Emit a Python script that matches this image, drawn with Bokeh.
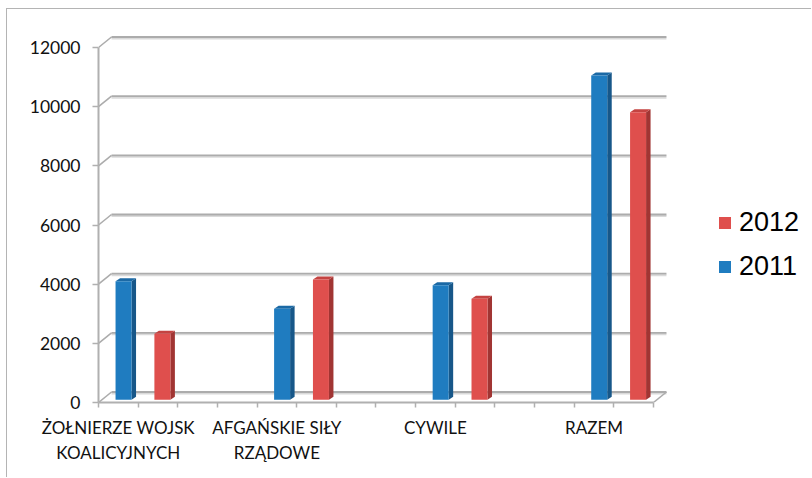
from bokeh.plotting import figure
from bokeh.models import Range1d, FixedTicker, ColumnDataSource, Legend, LegendItem
from bokeh.embed import file_html
from bokeh.resources import INLINE

# ---- data -------------------------------------------------------------
categories = ["ŻOŁNIERZE WOJSK\nKOALICYJNYCH", "AFGAŃSKIE SIŁY\nRZĄDOWE", "CYWILE", "RAZEM"]
values_2011 = [4010, 3080, 3870, 10960]
values_2012 = [2230, 4070, 3420, 9720]
y_ticks = [0, 2000, 4000, 6000, 8000, 10000, 12000]

# ---- geometry (pixels -> data units) -----------------------------------
SLOT_PX = 39.64                 # one minor-tick slot on the category axis
Y_PX_PER_UNIT = 355 / 12000     # vertical scale of the value axis
FRAME_W, FRAME_H = 707, 382
N_SLOTS = 14
SLOTS_PER_CAT = 4


def ux(px):
    return px / SLOT_PX


def uy(px):
    return px / Y_PX_PER_UNIT


BACK_DX, BACK_DY = ux(13), uy(10.5)     # depth offset of the back wall
BAR_DY = uy(2.7)                        # bars stand slightly behind the front edge
SIDE_DX, SIDE_DY = ux(4.5), uy(3)       # 3-D side/top face offset
BAR_W = ux(16)
OFFSETS = {"2011": 0.43, "2012": 1.41}

COLORS = {
    "2011": ("#1f7cc0", "#175789", "#1b69a5"),
    "2012": ("#df4f4d", "#a13533", "#c44341"),
}

p = figure(
    width=805, height=469,
    x_range=Range1d(0, ux(FRAME_W)),
    y_range=Range1d(0, uy(FRAME_H)),
    min_border_left=91, min_border_right=7, min_border_top=11, min_border_bottom=76,
    output_backend="svg", toolbar_location=None,
    margin=(8, 0, 0, 6),
    styles={"border-top": "1px solid #b4b4b4", "border-left": "1px solid #b4b4b4"},
)
p.outline_line_color = None
p.xgrid.visible = False
p.ygrid.visible = False

# ---- back wall gridlines, with shadow and depth connectors --------------
GRID = "#acacac"
SHADOW = "#dadada"
shadow_off = uy(1.5)
p.segment(x0=[BACK_DX] * len(y_ticks), x1=[N_SLOTS + BACK_DX] * len(y_ticks),
          y0=[v + BACK_DY - shadow_off for v in y_ticks],
          y1=[v + BACK_DY - shadow_off for v in y_ticks],
          line_color=SHADOW, line_width=2)
p.segment(x0=[BACK_DX] * len(y_ticks), x1=[N_SLOTS + BACK_DX] * len(y_ticks),
          y0=[v + BACK_DY for v in y_ticks], y1=[v + BACK_DY for v in y_ticks],
          line_color=GRID, line_width=1.8)
p.segment(x0=[0] * len(y_ticks), x1=[BACK_DX] * len(y_ticks),
          y0=y_ticks, y1=[v + BACK_DY for v in y_ticks],
          line_color=GRID, line_width=1.6)
p.segment(x0=[N_SLOTS], x1=[N_SLOTS + BACK_DX], y0=[0], y1=[BACK_DY],
          line_color=GRID, line_width=1.6)

# ---- 3-D columns ------------------------------------------------------
renderers = {}
for year, vals in (("2011", values_2011), ("2012", values_2012)):
    front, side, top = COLORS[year]
    lefts = [SLOTS_PER_CAT * i + OFFSETS[year] for i in range(len(vals))]
    rights = [l + BAR_W for l in lefts]
    tops = [BAR_DY + v for v in vals]
    src = ColumnDataSource(dict(left=lefts, right=rights, top=tops,
                                bottom=[BAR_DY] * len(vals)))
    side_xs = [[r, r + SIDE_DX, r + SIDE_DX, r] for r in rights]
    side_ys = [[BAR_DY, BAR_DY + SIDE_DY, t + SIDE_DY, t] for t in tops]
    p.patches(side_xs, side_ys, fill_color=side, line_color=None)
    top_xs = [[l, r, r + SIDE_DX, l + SIDE_DX] for l, r in zip(lefts, rights)]
    top_ys = [[t, t, t + SIDE_DY, t + SIDE_DY] for t in tops]
    p.patches(top_xs, top_ys, fill_color=top, line_color=None)
    renderers[year] = p.quad(left="left", right="right", top="top", bottom="bottom",
                             source=src, fill_color=front, line_color=None)

# ---- axes -------------------------------------------------------------
AXIS = "#b0b0b0"
yax = p.yaxis[0]
yax.ticker = FixedTicker(ticks=y_ticks, minor_ticks=[])
yax.bounds = (0, 12000)
yax.axis_line_color = AXIS
yax.axis_line_width = 2
yax.major_tick_line_color = AXIS
yax.major_tick_line_width = 1.5
yax.major_tick_out = 6
yax.major_tick_in = 0
yax.minor_tick_line_color = None
yax.major_label_standoff = 12
yax.major_label_text_font = "Lato"
yax.major_label_text_font_size = "17.5px"
yax.major_label_text_color = "#111111"

label_pos = [SLOTS_PER_CAT * i + 0.5 for i in range(len(categories))]
xax = p.xaxis[0]
xax.ticker = FixedTicker(ticks=label_pos, minor_ticks=list(range(N_SLOTS + 1)))
xax.major_label_overrides = {pos: c for pos, c in zip(label_pos, categories)}
xax.bounds = (0, N_SLOTS)
xax.axis_line_color = AXIS
xax.axis_line_width = 2
xax.major_tick_line_color = None
xax.major_tick_out = 0
xax.major_tick_in = 0
xax.minor_tick_line_color = AXIS
xax.minor_tick_line_width = 1.5
xax.minor_tick_out = 5
xax.minor_tick_in = 0
xax.major_label_standoff = 9
xax.major_label_text_font = "Lato"
xax.major_label_text_font_size = "17px"
xax.major_label_text_color = "#111111"
xax.major_label_text_line_height = 1.22

# ---- legend -----------------------------------------------------------
legend = Legend(
    items=[LegendItem(label="2012", renderers=[renderers["2012"]]),
           LegendItem(label="2011", renderers=[renderers["2011"]])],
    location=(619, 120),
    glyph_width=15, glyph_height=15,
    label_text_font="Liberation Sans", label_text_font_size="27px",
    label_text_color="#000000", label_standoff=7,
    spacing=13, padding=0, margin=0,
    border_line_color=None, background_fill_alpha=0,
)
p.add_layout(legend)

open("out.html", "w").write(file_html(p, INLINE))
